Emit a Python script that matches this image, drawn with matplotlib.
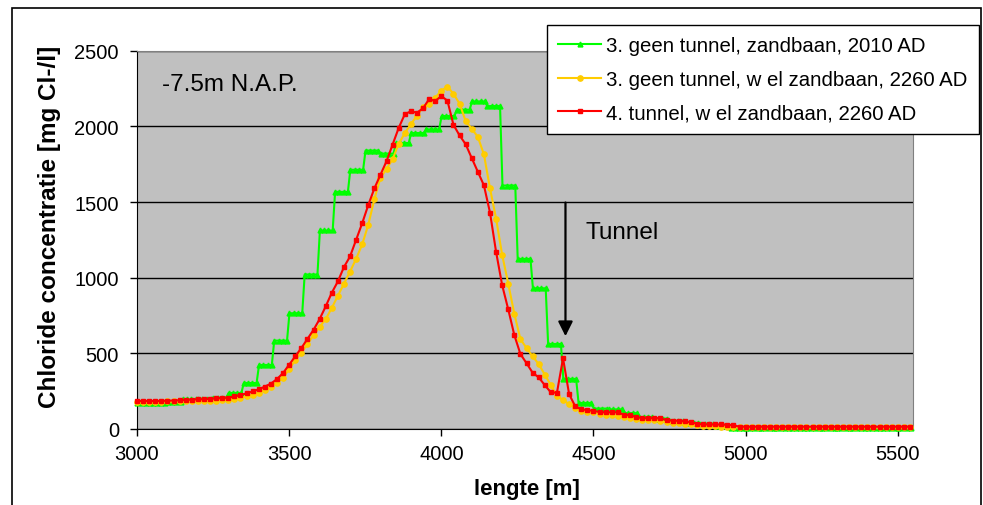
import numpy as np
import matplotlib
matplotlib.use("Agg")
import matplotlib.pyplot as plt
from matplotlib.patches import Rectangle

plt.rcParams["font.family"] = ["Liberation Sans", "DejaVu Sans"]

# x-as (lengte) voor de 2260-series, elke 20 m
lengte = np.arange(3000, 5541, 20)

# 4. tunnel, wel zandbaan, 2260 AD
rood = [185, 185, 185, 185, 185,
        187, 188, 190, 192, 194,
        196, 197, 200, 203, 205,
        207, 215, 225, 235, 248,
        262, 280, 300, 330, 370,
        425, 480, 535, 595, 655,
        726, 810, 900, 975, 1070,
        1140, 1250, 1360, 1480, 1590,
        1680, 1770, 1880, 1990, 2080,
        2100, 2090, 2120, 2180, 2168,
        2200, 2170, 2010, 1940, 1882,
        1790, 1700, 1610, 1430, 1170,
        950, 790, 620, 495, 435,
        372, 341, 290, 242, 240,
        467, 230, 150, 130, 125,
        120, 112, 110, 110, 110,
        95, 90, 80, 72, 72,
        72, 72, 58, 55, 55,
        50, 45, 35, 30, 30,
        30, 30, 28, 25, 15] + [15] * 28

# 3. geen tunnel, wel zandbaan, 2260 AD
geel = [180, 180, 180, 180, 181,
        182, 182, 183, 184, 185,
        185, 186, 187, 188, 190,
        192, 197, 205, 215, 225,
        240, 258, 280, 305, 340,
        395, 455, 505, 560, 620,
        675, 725, 800, 880, 960,
        1040, 1125, 1220, 1350, 1519,
        1660, 1720, 1783, 1885, 1955,
        2015, 2070, 2127, 2147, 2190,
        2235, 2263, 2215, 2150, 2035,
        1985, 1930, 1815, 1590, 1390,
        1150, 960, 760, 594, 535,
        480, 429, 360, 290, 220,
        190, 165, 140, 122, 115,
        110, 100, 95, 90, 88,
        80, 75, 65, 60, 58,
        58, 50, 45, 42, 40,
        35, 30, 25, 22, 20,
        18, 16, 15, 15, 12] + [10] * 28

# 3. geen tunnel, zandbaan, 2010 AD: cellen van 50 m
groen_cel = np.arange(3000, 5501, 50)
groen_niveau = [175, 175, 180, 195, 198, 205, 238, 304, 423, 584,
                765, 1021, 1312, 1567, 1713, 1840, 1820, 1890, 1956, 1980,
                2068, 2110, 2165, 2134, 1609, 1124, 930, 562, 331, 172,
                135, 130, 105, 78, 68, 52, 38, 30, 22, 5,
                5, 5, 5, 5, 5, 5, 5, 5, 5, 5, 5]
cel_punten = [1, 15, 29, 43]
groen_x = np.concatenate([c + np.array(cel_punten) for c in groen_cel])
groen_y = np.repeat(groen_niveau, len(cel_punten))

labels = ["3. geen tunnel, zandbaan, 2010 AD",
          "3. geen tunnel, w el zandbaan, 2260 AD",
          "4. tunnel, w el zandbaan, 2260 AD"]

W, H = 983, 506
fig = plt.figure(figsize=(W / 100, H / 100), dpi=100)
ax = fig.add_axes([137 / W, 1 - 430 / H, (913 - 137) / W, (430 - 51.7) / H])
ax.set_facecolor("#C0C0C0")

l1, = ax.plot(groen_x, groen_y, color="#00FF00", lw=1.5, marker="^",
              markersize=3.5, clip_on=False, zorder=3)
l2, = ax.plot(lengte, geel, color="#FFCC00", lw=1.5, marker="o",
              markersize=3.8, clip_on=False, zorder=4)
l3, = ax.plot(lengte, rood, color="#FF0000", lw=1.5, marker="s",
              markersize=3.2, clip_on=False, zorder=5)

ax.set_xlim(3000, 5550)
ax.set_ylim(0, 2500)
ax.set_xticks(np.arange(3000, 5501, 500))
ax.set_yticks(np.arange(0, 2501, 500))
ax.yaxis.grid(True, color="black", lw=1)
ax.set_axisbelow(True)
ax.tick_params(direction="out", length=5, width=1, labelsize=14.5)
ax.tick_params(axis="y", pad=8)
ax.tick_params(axis="x", pad=6)
for s in ["left", "bottom"]:
    ax.spines[s].set_color("black")
for s in ["top", "right"]:
    ax.spines[s].set_color("#808080")

ax.set_xlabel("lengte [m]", fontsize=16, fontweight="bold", va="center")
ax.xaxis.set_label_coords(0.5026, -0.1586)
ax.set_ylabel("Chloride concentratie [mg Cl-/l]", fontsize=17.5,
              fontweight="bold", va="center")
ax.yaxis.set_label_coords(-0.1134, 0.537)

ax.text(3082, 2279, "-7.5m N.A.P.", fontsize=17.5, va="center")
ax.annotate("", xy=(4408, 595), xytext=(4408, 1515),
            arrowprops=dict(arrowstyle="-|>", color="black", lw=1.6,
                            mutation_scale=22))
ax.text(4474, 1303, "Tunnel", fontsize=17.5, va="center")

leg = fig.legend([l1, l2, l3], labels, loc="upper left",
                 bbox_to_anchor=(547 / W, 1 - 26 / H), fontsize=14.7,
                 frameon=True, fancybox=False, edgecolor="black",
                 framealpha=1, handlelength=2.1, labelspacing=0.72,
                 borderpad=0.55, handletextpad=0.25, borderaxespad=0)
leg.get_frame().set_linewidth(1)

fig.add_artist(Rectangle((12 / W, -0.05), (981 - 12) / W, 1 - 9 / H + 0.05,
                         transform=fig.transFigure, fill=False,
                         ec="black", lw=1.2))

fig.savefig("out.png", dpi=100)
